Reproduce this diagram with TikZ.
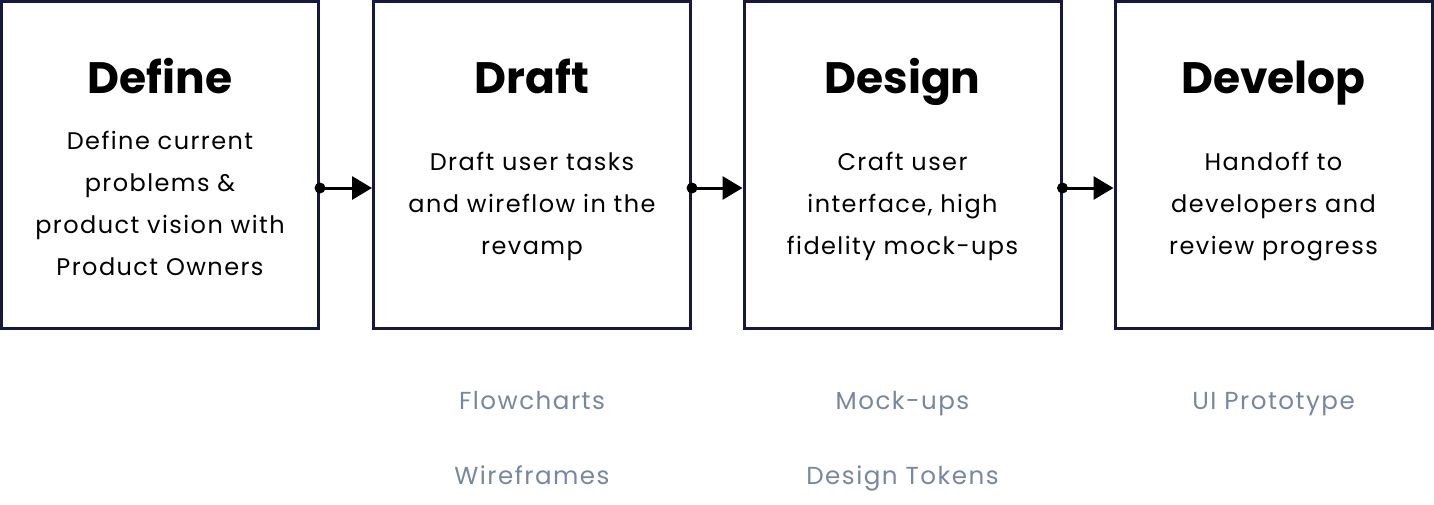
\documentclass[tikz,border=0pt]{standalone}
\usepackage{fontspec}
\setmainfont[LetterSpace = 6]{Poppins}
\newfontfamily\titlefont{Poppins}
\usetikzlibrary{arrows.meta}

\definecolor{navy}{HTML}{15193F}
\definecolor{slate}{HTML}{7787A1}

\tikzset{
  stage/.style = {rectangle, draw = navy, line width = 1.5pt, fill = white,
                  minimum width = 158.5pt, minimum height = 163.5pt, inner sep = 0pt},
  stagetitle/.style = {anchor = base, font = \titlefont\bfseries\fontsize{22}{26}\selectfont},
  stagetext/.style = {align = center, inner sep = 0pt, font = \fontsize{12}{21}\selectfont,
                      execute at begin node = \strut, execute at end node = \strut},
  output/.style = {anchor = base, text = slate, font = \fontsize{12.3}{16}\selectfont},
  flow/.style = {line width = 1.5pt, -{Triangle[length = 10pt, width = 11.5pt]}}
}

\begin{document}
\begin{tikzpicture}[x = 0.5pt, y = -0.5pt]
  \useasboundingbox (0,0) rectangle (1434,504);

  % Stages
  \node[stage] (define)  at (160,165)  {};
  \node[stage] (draft)   at (532,165)  {};
  \node[stage] (design)  at (902.5,165) {};
  \node[stage] (develop) at (1273.5,165) {};

  \node[stagetitle] (definetitle)  at (160,93)    {Define};
  \node[stagetitle] (drafttitle)   at (532,93)    {Draft};
  \node[stagetitle] (designtitle)  at (902.5,93)  {Design};
  \node[stagetitle] (developtitle) at (1273.5,93) {Develop};

  \node[stagetext] (definetext)  at (160,209.5)    {Define current\\problems \&\\product vision with\\Product Owners};
  \node[stagetext] (drafttext)   at (532,209.5)    {Draft user tasks\\and wireflow in the\\revamp};
  \node[stagetext] (designtext)  at (902.5,209.5)  {Craft user\\interface, high\\fidelity mock-ups};
  \node[stagetext] (developtext) at (1273.5,209.5) {Handoff to\\developers and\\review progress};

  % Connectors
  \foreach \a/\b in {define/draft, draft/design, design/develop}{
    \fill ([yshift = -11.5pt]\a.east) circle (2.75pt);
    \draw[flow] ([yshift = -11.5pt]\a.east) -- ([yshift = -11.5pt]\b.west);
  }

  % Outputs
  \node[output] (flowcharts) at (532,409)    {Flowcharts};
  \node[output] (wireframes) at (532,484)    {Wireframes};
  \node[output] (mockups)    at (902.5,409)  {Mock-ups};
  \node[output] (tokens)     at (902.5,484)  {Design Tokens};
  \node[output] (prototype)  at (1273.5,409) {UI Prototype};
\end{tikzpicture}
\end{document}
